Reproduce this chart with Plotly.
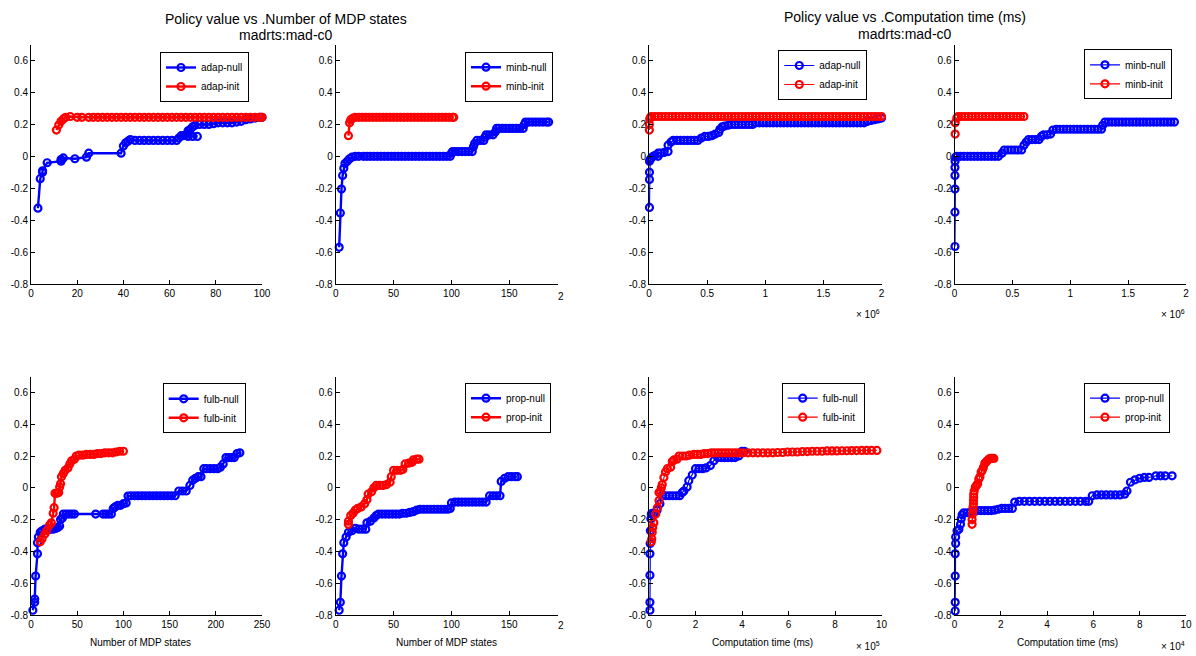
import plotly.graph_objects as go

W, H = 1196, 656
BLUE = "#0000ff"
RED = "#ff0000"
FONT = "Liberation Sans, Arial, sans-serif"

# ---------------- Policy value vs number of MDP states ----------------
adap_null_states_x = [3, 4, 5, 5, 7, 13, 13, 14, 19, 24, 25, 39, 40, 41, 42, 43,
                      45, 47, 49, 51, 53, 55, 57, 59, 61, 63, 64, 65, 66, 67, 68, 70, 72,
                      68, 69, 70, 71, 73, 75, 77, 79, 81, 83, 85, 87, 89, 91, 93, 95, 97, 99, 100]
adap_null_states_y = [-0.325, -0.14, -0.10, -0.09, -0.04, -0.03, -0.02, -0.01, -0.015, -0.005, 0.02,
                      0.02, 0.065, 0.085, 0.095, 0.105,
                      0.1, 0.1, 0.1, 0.1, 0.1, 0.1, 0.1, 0.1, 0.1, 0.1, 0.115, 0.13, 0.13, 0.135, 0.125, 0.125, 0.125,
                      0.16, 0.17, 0.185, 0.195, 0.2, 0.2, 0.2, 0.205, 0.21, 0.21, 0.21, 0.21, 0.215, 0.22, 0.23,
                      0.235, 0.24, 0.245, 0.245]
adap_init_states_x = [11, 12, 13, 14, 15, 17, 20, 22, 25,
                      27, 29, 31, 33, 35, 37, 39, 41, 43, 45, 47, 49, 51, 53, 55, 57, 59, 61, 63,
                      65, 67, 69, 71, 73, 75, 77, 79, 81, 83, 85, 87, 89, 91, 93, 95, 97, 99, 100]
adap_init_states_y = [0.165, 0.196, 0.22, 0.235, 0.245, 0.25, 0.245, 0.245, 0.245,
                      0.245, 0.245, 0.245, 0.245, 0.245, 0.245, 0.245, 0.245, 0.245, 0.245, 0.245,
                      0.245, 0.245, 0.245, 0.245, 0.245, 0.245, 0.245, 0.245, 0.245, 0.245, 0.245,
                      0.245, 0.245, 0.245, 0.245, 0.245, 0.245, 0.245, 0.245, 0.245, 0.245, 0.245,
                      0.245, 0.245, 0.245, 0.245, 0.245]

minb_null_states_x = [3, 4, 5, 6, 7, 8, 10, 12, 14, 17, 20, 24,
                      27, 30, 33, 36, 39, 42, 45, 48, 51, 54, 57, 60, 63, 66, 69, 72, 75, 78, 81,
                      84, 87, 90, 93, 96, 99,
                      100, 101, 103, 106, 109, 112, 115, 118,
                      119, 120, 122, 125, 128, 129, 130, 133, 136, 138, 139,
                      141, 144, 147, 150, 153, 156, 159, 162,
                      163, 164, 167, 170, 173, 176, 179, 182, 184]
minb_null_states_y = [-0.57, -0.355, -0.205, -0.12, -0.075, -0.045, -0.03, -0.015, -0.005, 0.0, 0.0, 0.0,
                      0.0, 0.0, 0.0, 0.0, 0.0, 0.0, 0.0, 0.0, 0.0, 0.0, 0.0, 0.0, 0.0, 0.0, 0.0, 0.0,
                      0.0, 0.0, 0.0, 0.0, 0.0, 0.0, 0.0, 0.0, 0.0,
                      0.02, 0.03, 0.03, 0.03, 0.03, 0.03, 0.03, 0.03,
                      0.06, 0.08, 0.1, 0.1, 0.1, 0.12, 0.135, 0.135, 0.135, 0.155, 0.175,
                      0.175, 0.175, 0.175, 0.175, 0.175, 0.175, 0.175, 0.175,
                      0.2, 0.215, 0.215, 0.215, 0.215, 0.215, 0.215, 0.215, 0.215]
minb_init_states_x = [11, 12, 13, 15, 17,
                      20, 23, 26, 29, 32, 35, 38, 41, 44, 47, 50, 53, 56, 59, 62, 65, 68, 71,
                      74, 77, 80, 83, 86, 89, 92, 95, 98, 101, 102]
minb_init_states_y = [0.13, 0.21, 0.23, 0.24, 0.245,
                      0.245, 0.245, 0.245, 0.245, 0.245, 0.245, 0.245, 0.245, 0.245, 0.245, 0.245,
                      0.245, 0.245, 0.245, 0.245, 0.245, 0.245, 0.245, 0.245, 0.245, 0.245, 0.245,
                      0.245, 0.245, 0.245, 0.245, 0.245, 0.245, 0.245]

fulb_null_states_x = [2, 4, 4, 5, 7, 7, 8, 10, 12, 15, 18, 21, 24, 27, 29, 31, 32, 34, 35,
                      38, 41, 44, 47, 70, 78, 81, 84, 87,
                      89, 91, 94, 97, 100, 103, 105,
                      108, 112, 116, 120, 124, 128, 132, 136, 140, 144, 148, 152, 156,
                      160, 164, 168, 172, 175, 178, 181, 184, 187,
                      190, 194, 198, 202, 205, 208, 211, 214, 217, 220, 223, 226]
fulb_null_states_y = [-0.77, -0.72, -0.70, -0.555, -0.415, -0.345, -0.31, -0.28, -0.27, -0.26, -0.265,
                      -0.26, -0.26, -0.255, -0.25, -0.24, -0.2, -0.19, -0.165,
                      -0.165, -0.165, -0.165, -0.165, -0.165, -0.165, -0.165, -0.165, -0.165,
                      -0.13, -0.12, -0.11, -0.11, -0.1, -0.095, -0.052,
                      -0.05, -0.05, -0.05, -0.05, -0.05, -0.05, -0.05, -0.05, -0.05, -0.05, -0.05,
                      -0.05, -0.05,
                      -0.02, -0.02, -0.02, 0.015, 0.048, 0.06, 0.07, 0.07, 0.12,
                      0.12, 0.12, 0.12, 0.12, 0.13, 0.15, 0.19, 0.19, 0.19, 0.19, 0.215, 0.22]
fulb_init_states_x = [10, 12, 15, 17, 20, 22, 24, 25, 26, 28, 30, 31, 32, 33, 35, 37, 40, 42, 44,
                      47, 49, 52, 56, 60, 64, 68, 72, 76, 80, 84, 88, 92, 96, 100]
fulb_init_states_y = [-0.34, -0.32, -0.29, -0.27, -0.235, -0.22, -0.16, -0.125, -0.035, -0.035, -0.03,
                      0.005, 0.025, 0.07, 0.09, 0.11, 0.125, 0.15, 0.17, 0.18, 0.2, 0.205, 0.205,
                      0.21, 0.21, 0.21, 0.215, 0.215, 0.22, 0.22, 0.22, 0.225, 0.23, 0.23]

prop_null_states_x = [3, 4, 5, 6, 7, 9, 11, 14, 17, 20, 23, 26, 27, 30, 33, 35,
                      37, 40, 43, 46, 49, 52, 55, 58, 61, 64, 67, 70,
                      73, 76, 79, 82, 85, 88, 91, 94, 97, 99,
                      100, 103, 106, 109, 112, 115, 118, 121, 124, 127, 130,
                      133, 136, 139, 142, 143, 146, 149, 152, 155, 157]
prop_null_states_y = [-0.77, -0.72, -0.555, -0.415, -0.345, -0.31, -0.28, -0.27, -0.255, -0.26, -0.26,
                      -0.26, -0.22, -0.21, -0.19, -0.175,
                      -0.165, -0.165, -0.165, -0.165, -0.165, -0.165, -0.165, -0.16, -0.16, -0.155,
                      -0.15, -0.14,
                      -0.135, -0.135, -0.135, -0.135, -0.135, -0.135, -0.135, -0.135, -0.135, -0.13,
                      -0.095, -0.09, -0.09, -0.09, -0.09, -0.09, -0.09, -0.09, -0.09, -0.09, -0.09,
                      -0.05, -0.05, -0.05, -0.05, 0.04, 0.06, 0.07, 0.07, 0.07, 0.07]
prop_init_states_x = [11, 11, 13, 15, 17, 19, 22, 25, 27, 28, 31, 33, 35, 38, 41, 44, 47, 48,
                      50, 53, 56, 58, 60, 63, 66, 67, 70, 72]
prop_init_states_y = [-0.23, -0.21, -0.175, -0.16, -0.14, -0.13, -0.12, -0.1, -0.075, -0.04, -0.025,
                      0.0, 0.015, 0.015, 0.015, 0.02, 0.035, 0.07, 0.11, 0.11, 0.11, 0.115, 0.15,
                      0.155, 0.16, 0.175, 0.18, 0.18]

# ---------------- Policy value vs computation time ----------------
# top row times in units of 1e6 ms
adap_null_time_x = [0.004, 0.004, 0.004, 0.004, 0.01, 0.02, 0.036, 0.05, 0.078, 0.078, 0.1, 0.13,
                    0.164, 0.164, 0.19, 0.207,
                    0.24, 0.27, 0.30, 0.33, 0.36, 0.39, 0.42,
                    0.45, 0.48, 0.51, 0.54, 0.57, 0.60, 0.61, 0.63, 0.65, 0.68,
                    0.71, 0.74, 0.77, 0.80, 0.83, 0.86, 0.89,
                    0.92, 0.95, 0.98, 1.01, 1.04, 1.07, 1.10, 1.13, 1.16, 1.19, 1.22, 1.25, 1.28,
                    1.31, 1.34, 1.37, 1.40, 1.43, 1.46, 1.49, 1.52, 1.55, 1.58, 1.61, 1.64, 1.67,
                    1.70, 1.73, 1.76, 1.79, 1.82, 1.85,
                    1.88, 1.91, 1.94, 1.97, 2.00]
adap_null_time_y = [-0.32, -0.145, -0.10, -0.03, -0.02, -0.01, 0.0, 0.005, 0.0, 0.02, 0.02, 0.025,
                    0.03, 0.07, 0.09, 0.1,
                    0.1, 0.1, 0.1, 0.1, 0.1, 0.1, 0.1,
                    0.115, 0.125, 0.125, 0.13, 0.14, 0.15, 0.17, 0.185, 0.19, 0.195,
                    0.2, 0.2, 0.2, 0.2, 0.2, 0.2, 0.2,
                    0.21, 0.21, 0.21, 0.21, 0.21, 0.21, 0.21, 0.21, 0.21, 0.21, 0.21, 0.21, 0.21,
                    0.21, 0.21, 0.21, 0.21, 0.21, 0.21, 0.21, 0.21, 0.21, 0.21, 0.21, 0.21, 0.21,
                    0.21, 0.21, 0.21, 0.21, 0.21, 0.21,
                    0.22, 0.225, 0.23, 0.235, 0.24]
adap_init_time_x = [0.003, 0.003, 0.006, 0.012, 0.02,
                    0.05, 0.08, 0.11, 0.14, 0.17, 0.20, 0.23, 0.26, 0.29, 0.32, 0.35, 0.38, 0.41,
                    0.44, 0.47, 0.50, 0.53, 0.56, 0.59, 0.62, 0.65, 0.68, 0.71, 0.74, 0.77, 0.80,
                    0.83, 0.86, 0.89, 0.92, 0.95, 0.98, 1.01, 1.04, 1.07, 1.10, 1.13, 1.16, 1.19,
                    1.22, 1.25, 1.28, 1.31, 1.34, 1.37, 1.40, 1.43, 1.46, 1.49, 1.52, 1.55, 1.58,
                    1.61, 1.64, 1.67, 1.70, 1.73, 1.76, 1.79, 1.82, 1.85, 1.88, 1.91, 1.94, 1.97, 2.00]
adap_init_time_y = [0.165, 0.2, 0.235, 0.245, 0.25,
                    0.25, 0.25, 0.25, 0.25, 0.25, 0.25, 0.25, 0.25, 0.25, 0.25, 0.25, 0.25, 0.25,
                    0.25, 0.25, 0.25, 0.25, 0.25, 0.25, 0.25, 0.25, 0.25, 0.25, 0.25, 0.25, 0.25,
                    0.25, 0.25, 0.25, 0.25, 0.25, 0.25, 0.25, 0.25, 0.25, 0.25, 0.25, 0.25, 0.25,
                    0.25, 0.25, 0.25, 0.25, 0.25, 0.25, 0.25, 0.25, 0.25, 0.25, 0.25, 0.25, 0.25,
                    0.25, 0.25, 0.25, 0.25, 0.25, 0.25, 0.25, 0.25, 0.25, 0.25, 0.25, 0.25, 0.25, 0.25]

minb_null_time_x = [0.004, 0.004, 0.004, 0.004, 0.004, 0.005, 0.01, 0.02,
                    0.05, 0.08, 0.11, 0.14, 0.17, 0.20, 0.23, 0.26, 0.29, 0.32, 0.35, 0.38,
                    0.41, 0.43, 0.46, 0.49, 0.52, 0.55, 0.58,
                    0.60, 0.62, 0.64, 0.67, 0.70, 0.73, 0.75, 0.77, 0.80, 0.83, 0.85,
                    0.88, 0.91, 0.94, 0.97, 1.00, 1.03, 1.06, 1.09, 1.12, 1.15, 1.18, 1.21, 1.24, 1.27,
                    1.28, 1.30,
                    1.33, 1.36, 1.39, 1.42, 1.45, 1.48, 1.51, 1.54, 1.57, 1.60, 1.63, 1.66, 1.69,
                    1.72, 1.75, 1.78, 1.81, 1.84, 1.87, 1.90]
minb_null_time_y = [-0.565, -0.35, -0.205, -0.12, -0.07, -0.03, -0.005, 0.0,
                    0.0, 0.0, 0.0, 0.0, 0.0, 0.0, 0.0, 0.0, 0.0, 0.0, 0.0, 0.0,
                    0.02, 0.04, 0.04, 0.04, 0.04, 0.04, 0.04,
                    0.07, 0.09, 0.105, 0.105, 0.105, 0.105, 0.125, 0.135, 0.135, 0.14, 0.165,
                    0.17, 0.17, 0.17, 0.17, 0.17, 0.17, 0.17, 0.17, 0.17, 0.17, 0.17, 0.17, 0.17, 0.17,
                    0.195, 0.215,
                    0.215, 0.215, 0.215, 0.215, 0.215, 0.215, 0.215, 0.215, 0.215, 0.215, 0.215,
                    0.215, 0.215, 0.215, 0.215, 0.215, 0.215, 0.215, 0.215, 0.215]
minb_init_time_x = [0.006, 0.006, 0.02, 0.03,
                    0.06, 0.09, 0.12, 0.15, 0.18, 0.21, 0.24, 0.27, 0.30, 0.33, 0.36, 0.39, 0.42,
                    0.45, 0.48, 0.51, 0.54, 0.57, 0.60]
minb_init_time_y = [0.14, 0.21, 0.24, 0.25,
                    0.25, 0.25, 0.25, 0.25, 0.25, 0.25, 0.25, 0.25, 0.25, 0.25, 0.25, 0.25, 0.25,
                    0.25, 0.25, 0.25, 0.25, 0.25, 0.25]

# bottom-left time panel in units of 1e5 ms
fulb_null_time_x = [0.04, 0.04, 0.04, 0.04, 0.05, 0.06, 0.08, 0.1, 0.14, 0.2, 0.28, 0.35, 0.47, 0.57,
                    0.72, 0.87, 1.02, 1.17, 1.32, 1.43, 1.5, 1.64, 1.71, 1.86,
                    2.0, 2.15, 2.3, 2.45, 2.64, 2.79, 2.95, 3.1, 3.25, 3.4, 3.55, 3.7, 3.86, 4.0, 4.1]
fulb_null_time_y = [-0.77, -0.72, -0.55, -0.415, -0.35, -0.27, -0.195, -0.165, -0.16, -0.17, -0.16,
                    -0.14, -0.1, -0.05,
                    -0.05, -0.05, -0.05, -0.05, -0.05, -0.03, -0.02, 0.005, 0.045, 0.08,
                    0.12, 0.12, 0.12, 0.125, 0.14, 0.17, 0.19, 0.19, 0.19, 0.19, 0.19, 0.19, 0.2,
                    0.23, 0.23]
fulb_init_time_x = [0.1, 0.12, 0.14, 0.16, 0.21, 0.29, 0.36, 0.43, 0.43, 0.5, 0.53, 0.57, 0.64, 0.71,
                    0.79, 0.93, 1.0, 1.07, 1.2, 1.29, 1.44, 1.59, 1.74, 1.93, 2.08, 2.23, 2.38, 2.53,
                    2.68, 2.83, 2.98, 3.13, 3.28, 3.43, 3.58, 3.73, 3.88,
                    4.05, 4.26, 4.47, 4.68, 4.9, 5.11, 5.32, 5.53, 5.75, 5.96, 6.17, 6.38, 6.6,
                    6.81, 7.02, 7.23, 7.45, 7.66, 7.87, 8.08, 8.3, 8.51, 8.72, 8.93, 9.15, 9.36,
                    9.57, 9.8]
fulb_init_time_y = [-0.34, -0.32, -0.28, -0.25, -0.22, -0.165, -0.125, -0.08, -0.03, -0.02, 0.0, 0.02,
                    0.065, 0.1, 0.12, 0.13, 0.165, 0.175, 0.18, 0.2, 0.2, 0.2, 0.205, 0.21, 0.21,
                    0.21, 0.215, 0.215, 0.22, 0.22, 0.22, 0.22, 0.22, 0.22, 0.22, 0.22, 0.22,
                    0.22, 0.22, 0.22, 0.22, 0.22, 0.22, 0.22, 0.222, 0.222, 0.225, 0.225, 0.225,
                    0.228, 0.228, 0.23, 0.23, 0.23, 0.232, 0.232, 0.232, 0.233, 0.233, 0.234,
                    0.234, 0.235, 0.235, 0.235, 0.235]

# bottom-right time panel in units of 1e4 ms
prop_null_time_x = [0.03, 0.03, 0.03, 0.03, 0.05, 0.05, 0.11, 0.19, 0.26, 0.29, 0.33, 0.4, 0.55, 0.69,
                    0.84, 0.99, 1.14, 1.29, 1.44, 1.59, 1.74, 1.89, 2.04, 2.19, 2.34, 2.5, 2.6,
                    2.8, 3.02, 3.24, 3.46, 3.68, 3.9, 4.12, 4.34, 4.56, 4.78, 5.0, 5.22, 5.44,
                    5.66, 5.8, 5.95, 6.15, 6.35, 6.55, 6.75, 6.95, 7.15, 7.35, 7.45, 7.6, 7.8,
                    8.0, 8.2, 8.4, 8.7, 8.9, 9.1, 9.4]
prop_null_time_y = [-0.775, -0.72, -0.555, -0.415, -0.35, -0.31, -0.27, -0.26, -0.23, -0.195, -0.17,
                    -0.157, -0.157, -0.155, -0.145, -0.143, -0.143, -0.143, -0.143, -0.143, -0.14,
                    -0.135, -0.13, -0.13, -0.13, -0.13, -0.09,
                    -0.085, -0.085, -0.085, -0.085, -0.085, -0.085, -0.085, -0.085, -0.085,
                    -0.085, -0.085, -0.085, -0.085, -0.085, -0.085, -0.05, -0.045, -0.045,
                    -0.045, -0.045, -0.045, -0.045, -0.04, -0.02, 0.035, 0.05, 0.06, 0.065,
                    0.065, 0.075, 0.075, 0.075, 0.075]
prop_init_time_x = [0.76, 0.76, 0.78, 0.8, 0.8, 0.82, 0.82, 0.83, 0.83, 0.85, 0.9, 0.95, 1.0, 1.05,
                    1.1, 1.15, 1.2, 1.25, 1.31, 1.36, 1.41, 1.48, 1.55, 1.62, 1.7]
prop_init_time_y = [-0.23, -0.2, -0.165, -0.14, -0.12, -0.1, -0.08, -0.06, -0.04, -0.02, 0.005,
                    0.015, 0.025, 0.055, 0.07, 0.1, 0.11, 0.13, 0.155, 0.16, 0.17, 0.18, 0.185,
                    0.185, 0.185]

y_ticks = [-0.8, -0.6, -0.4, -0.2, 0, 0.2, 0.4, 0.6]
y_tick_text = ["-0.8", "-0.6", "-0.4", "-0.2", "0", "0.2", "0.4", "0.6"]


def px_x(px):
    return px / W


def px_y(py):
    return 1 - py / H


# column pixel extents and row pixel extents of the axes boxes
col_px = [(31, 262), (335.7, 558), (649, 881.5), (954.5, 1186)]
row_px = [(44.7, 284), (376.5, 615)]

panels = [
    # (col, row, null data, init data, names, x range, x ticks, x tick text, legend box (px), line width)
    (0, 0, (adap_null_states_x, adap_null_states_y), (adap_init_states_x, adap_init_states_y),
     ("adap-null", "adap-init"), [0, 100], [0, 20, 40, 60, 80, 100], None, (160, 52), 2.4),
    (1, 0, (minb_null_states_x, minb_null_states_y), (minb_init_states_x, minb_init_states_y),
     ("minb-null", "minb-init"), [0, 192.1], [0, 50, 100, 150], None, (465, 51.7), 2.4),
    (2, 0, (adap_null_time_x, adap_null_time_y), (adap_init_time_x, adap_init_time_y),
     ("adap-null", "adap-init"), [0, 2], [0, 0.5, 1, 1.5, 2], ["0", "0.5", "1", "1.5", "2"], (778.3, 50), 1.2),
    (3, 0, (minb_null_time_x, minb_null_time_y), (minb_init_time_x, minb_init_time_y),
     ("minb-null", "minb-init"), [0, 2], [0, 0.5, 1, 1.5, 2], ["0", "0.5", "1", "1.5", "2"], (1084, 49.3), 1.2),
    (0, 1, (fulb_null_states_x, fulb_null_states_y), (fulb_init_states_x, fulb_init_states_y),
     ("fulb-null", "fulb-init"), [0, 250], [0, 50, 100, 150, 200, 250], None, (162.7, 383.3), 2.4),
    (1, 1, (prop_null_states_x, prop_null_states_y), (prop_init_states_x, prop_init_states_y),
     ("prop-null", "prop-init"), [0, 192.1], [0, 50, 100, 150], None, (465, 382.7), 2.4),
    (2, 1, (fulb_null_time_x, fulb_null_time_y), (fulb_init_time_x, fulb_init_time_y),
     ("fulb-null", "fulb-init"), [0, 10], [0, 2, 4, 6, 8, 10], None, (781.7, 382.7), 1.2),
    (3, 1, (prop_null_time_x, prop_null_time_y), (prop_init_time_x, prop_init_time_y),
     ("prop-null", "prop-init"), [0, 10], [0, 2, 4, 6, 8, 10], None, (1084, 382.7), 1.2),
]

fig = go.Figure()
layout = dict(
    width=W, height=H,
    margin=dict(l=0, r=0, t=0, b=0),
    paper_bgcolor="white", plot_bgcolor="white",
    font=dict(family=FONT, size=10, color="black"),
    showlegend=True,
)

axis_common = dict(
    showline=True, linecolor="black", linewidth=1, mirror=False,
    ticks="inside", ticklen=4, tickcolor="black", tickwidth=1,
    showgrid=False, zeroline=False, automargin=False,
    tickfont=dict(family=FONT, size=10, color="black"),
)

for i, (col, row, null, init, names, xr, xt, xtt, leg, lw) in enumerate(panels):
    n = i + 1
    sfx = "" if n == 1 else str(n)
    xa, ya = "x" + sfx, "y" + sfx
    legname = "legend" if n == 1 else "legend" + str(n)
    x0, x1 = col_px[col]
    y0, y1 = row_px[row]
    layout["xaxis" + sfx] = dict(
        axis_common, domain=[px_x(x0), px_x(x1)], range=xr, anchor=ya,
        tickmode="array", tickvals=xt, ticktext=xtt if xtt else [str(v) for v in xt],
    )
    layout["yaxis" + sfx] = dict(
        axis_common, domain=[px_y(y1), px_y(y0)], range=[-0.8, 0.7], anchor=xa,
        tickmode="array", tickvals=y_ticks, ticktext=y_tick_text,
    )
    layout[legname] = dict(
        x=px_x(leg[0]), y=px_y(leg[1]), xanchor="left", yanchor="top",
        bordercolor="black", borderwidth=1, bgcolor="white",
        font=dict(family=FONT, size=10, color="black"),
        tracegroupgap=0, itemwidth=30,
    )
    for (xs, ys), color, name in ((null, BLUE, names[0]), (init, RED, names[1])):
        fig.add_trace(go.Scatter(
            x=xs, y=ys, name=name, mode="lines+markers",
            xaxis=xa, yaxis=ya, legend=legname, cliponaxis=False,
            line=dict(color=color, width=lw),
            marker=dict(symbol="circle-open", size=7, color=color, line=dict(width=2.2, color=color)),
        ))

annotations = []


def text_at(px, py, text, size=10, xanchor="center", yanchor="middle"):
    annotations.append(dict(
        x=px_x(px), y=px_y(py), xref="paper", yref="paper", text=text, showarrow=False,
        xanchor=xanchor, yanchor=yanchor, font=dict(family=FONT, size=size, color="black"),
    ))


# panel group titles
text_at(286, 19, "Policy value vs .Number of MDP states", size=14)
text_at(286, 35, "madrts:mad-c0", size=14)
text_at(905, 17, "Policy value vs .Computation time (ms)", size=14)
text_at(905, 34, "madrts:mad-c0", size=14)

# x axis titles
text_at(140, 642, "Number of MDP states")
text_at(447, 642, "Number of MDP states")
text_at(762, 642, "Computation time (ms)")
text_at(1067, 642, "Computation time (ms)")

# axis exponent labels
text_at(882, 314, "× 10<sup>6</sup>", xanchor="right")
text_at(1187, 314, "× 10<sup>6</sup>", xanchor="right")
text_at(882, 646, "× 10<sup>5</sup>", xanchor="right")
text_at(1187, 646, "× 10<sup>4</sup>", xanchor="right")

# clipped tick label at the edge of the middle panels
text_at(556, 296, "2", xanchor="left")
text_at(556, 625, "2", xanchor="left")

layout["annotations"] = annotations
fig.update_layout(**layout)

fig.write_html("out.html", config={"displayModeBar": False})
